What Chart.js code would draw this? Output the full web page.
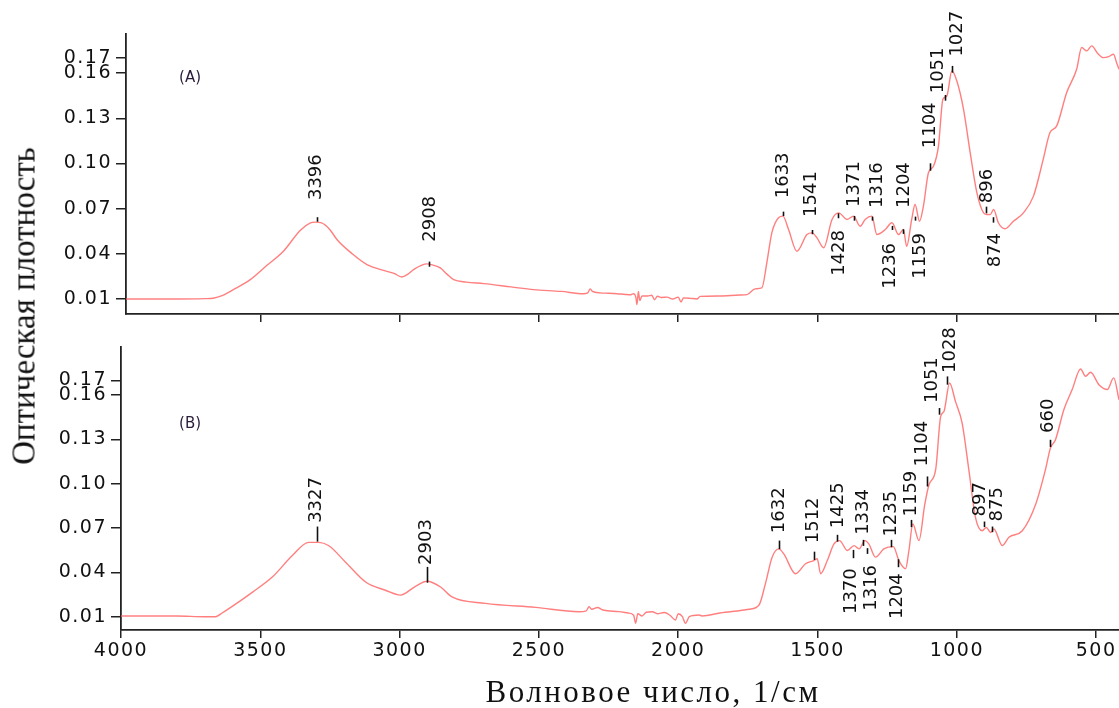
<!DOCTYPE html>
<html lang="ru">

<head>
    <meta charset="UTF-8" />
    <title>ИК-спектры (A) и (B)</title>
    <script src="https://cdn.jsdelivr.net/npm/chart.js"></script>
    <style>
        body {
            margin: 0;
            background: #ffffff;
            width: 1119px;
            height: 708px;
            position: relative;
            overflow: hidden;
            font-family: 'DejaVu Sans', sans-serif;
        }

        .panel {
            position: absolute;
            left: 0;
            width: 1119px;
        }

        #panelA {
            top: 0;
            height: 330px;
        }

        #panelB {
            top: 310px;
            height: 398px;
        }

        #yTitle {
            position: absolute;
            left: 24px;
            top: 306px;
            transform: translate(-50%, -50%) rotate(-90deg);
            font: 33px 'Liberation Serif', serif;
            line-height: 33px;
            white-space: nowrap;
            color: #111;
        }

        #xTitle {
            position: absolute;
            left: 653px;
            top: 676px;
            transform: translateX(-50%);
            font: 31px 'Liberation Serif', serif;
            line-height: 31px;
            letter-spacing: 2.5px;
            white-space: nowrap;
            color: #111;
        }
    </style>
</head>

<body>
    <div class="panel" id="panelA"><canvas id="chartA"></canvas></div>
    <div class="panel" id="panelB"><canvas id="chartB"></canvas></div>
    <div id="yTitle">Оптическая плотность</div>
    <div id="xTitle">Волновое число, 1/см</div>

    <script>
        // спектр (A): волновое число, 1/см и оптическая плотность
        const wnA = [3982, 3800, 3700, 3669, 3637, 3589, 3536, 3477, 3417, 3357, 3320, 3303, 3280, 3250, 3225,
            3170, 3117, 3058, 3020, 2992, 2970, 2950, 2920, 2902, 2880, 2854, 2830, 2806, 2760, 2698,
            2600, 2519, 2420, 2340, 2325, 2316, 2308, 2280, 2250, 2220, 2190, 2170, 2160, 2152, 2148,
            2143, 2138, 2130, 2110, 2095, 2085, 2075, 2060, 2040, 2020, 2000, 1990, 1981, 1960, 1933,
            1921, 1850, 1780, 1753, 1724, 1700, 1682, 1664, 1640, 1624, 1604, 1574, 1538, 1520, 1502,
            1478, 1448, 1424, 1394, 1371, 1347, 1329, 1305, 1287, 1257, 1233, 1209, 1192, 1180, 1162,
            1150, 1134, 1120, 1102, 1084, 1066, 1050, 1036, 1018, 1000, 976, 952, 928, 904, 892,
            880, 868, 851, 827, 797, 761, 725, 690, 666, 642, 606, 570, 552, 534, 516,
            495, 474, 455, 438, 425, 418];
        const odA = [0.0100, 0.0100, 0.0102, 0.0105, 0.0122, 0.0170, 0.0228, 0.0322, 0.0417, 0.0555, 0.0605, 0.0610, 0.0605, 0.0560, 0.0495,
            0.0400, 0.0328, 0.0290, 0.0270, 0.0246, 0.0265, 0.0295, 0.0325, 0.0333, 0.0325, 0.0306, 0.0265, 0.0228, 0.0212, 0.0202,
            0.0180, 0.0162, 0.0150, 0.0135, 0.0140, 0.0167, 0.0150, 0.0140, 0.0138, 0.0135, 0.0130, 0.0128, 0.0135, 0.0110, 0.0062,
            0.0150, 0.0090, 0.0120, 0.0120, 0.0125, 0.0095, 0.0118, 0.0110, 0.0112, 0.0100, 0.0112, 0.0080, 0.0107, 0.0105, 0.0100,
            0.0117, 0.0120, 0.0126, 0.0129, 0.0167, 0.0173, 0.0340, 0.0539, 0.0639, 0.0650, 0.0561, 0.0417, 0.0528, 0.0539, 0.0506,
            0.0440, 0.0628, 0.0672, 0.0628, 0.0650, 0.0583, 0.0628, 0.0650, 0.0528, 0.0561, 0.0606, 0.0528, 0.0561, 0.0450, 0.0628,
            0.0727, 0.0616, 0.0716, 0.0938, 0.0982, 0.1115, 0.1426, 0.1448, 0.1614, 0.1548, 0.1360, 0.1071, 0.0805, 0.0672, 0.0661,
            0.0660, 0.0694, 0.0606, 0.0566, 0.0616, 0.0672, 0.0783, 0.1027, 0.1204, 0.1248, 0.1470, 0.1626, 0.1770, 0.1748, 0.1781,
            0.1732, 0.1703, 0.1710, 0.1725, 0.1660, 0.1626];

        // спектр (B)
        const wnB = [4000, 3800, 3700, 3660, 3637, 3589, 3529, 3457, 3385, 3326, 3290, 3254, 3194, 3122,
            3051, 2997, 2943, 2901, 2853, 2812, 2692, 2512, 2356, 2330, 2320, 2310, 2290, 2270, 2213,
            2180, 2160, 2153, 2145, 2130, 2115, 2093, 2075, 2050, 2030, 2010, 2000, 1985, 1974, 1960,
            1926, 1914, 1850, 1746, 1710, 1687, 1663, 1639, 1621, 1579, 1543, 1513, 1501, 1489, 1465,
            1441, 1421, 1393, 1369, 1351, 1330, 1316, 1292, 1262, 1228, 1208, 1184, 1172, 1158, 1136,
            1115, 1100, 1076, 1058, 1046, 1026, 1005, 981, 957, 933, 909, 894, 879, 867, 837,
            813, 765, 717, 682, 664, 646, 616, 586, 556, 538, 520, 490, 460, 437, 418];
        const odB = [0.0105, 0.0105, 0.0100, 0.0100, 0.0125, 0.0185, 0.0265, 0.0368, 0.0514, 0.0603, 0.0603, 0.0580, 0.0469, 0.0335,
            0.0279, 0.0246, 0.0306, 0.0340, 0.0301, 0.0234, 0.0190, 0.0163, 0.0134, 0.0140, 0.0167, 0.0150, 0.0162, 0.0145, 0.0134,
            0.0125, 0.0110, 0.0056, 0.0120, 0.0105, 0.0130, 0.0134, 0.0120, 0.0128, 0.0110, 0.0078, 0.0120, 0.0100, 0.0056, 0.0100,
            0.0111, 0.0105, 0.0125, 0.0150, 0.0179, 0.0324, 0.0503, 0.0559, 0.0525, 0.0391, 0.0458, 0.0480, 0.0492, 0.0391, 0.0480,
            0.0593, 0.0615, 0.0548, 0.0581, 0.0559, 0.0615, 0.0593, 0.0503, 0.0559, 0.0574, 0.0480, 0.0425, 0.0548, 0.0727, 0.0615,
            0.0861, 0.0993, 0.1095, 0.1455, 0.1490, 0.1681, 0.1557, 0.1410, 0.1095, 0.0771, 0.0682, 0.0704, 0.0670, 0.0693, 0.0581,
            0.0637, 0.0682, 0.0861, 0.1095, 0.1242, 0.1298, 0.1501, 0.1637, 0.1776, 0.1727, 0.1754, 0.1670, 0.1637, 0.1716, 0.1568];

        const yTicks = [0.01, 0.04, 0.07, 0.10, 0.13, 0.16, 0.17];
        const xTicks = [4000, 3500, 3000, 2500, 2000, 1500, 1000, 500];

        // отметки пиков (A): подпись, штрих (положение, концы), подпись (положение, начало)
        const peakTextA = ['3396', '2908', '1633', '1541', '1428', '1371', '1316', '1236', '1204', '1159', '1104', '1051', '1027', '896', '874'];
        const peakPosA = [3297, 2894, 1625, 1519, 1425, 1368, 1305, 1234, 1192, 1150, 1096, 1042, 1018, 895, 869];
        const peakLowA = [0.0613, 0.0314, 0.0651, 0.0530, 0.0636, 0.0620, 0.0620, 0.0558, 0.0532, 0.0620, 0.0952, 0.1417, 0.1603, 0.0669, 0.0607];
        const peakHighA = [0.0643, 0.0348, 0.0680, 0.0558, 0.0669, 0.0651, 0.0647, 0.0585, 0.0563, 0.0647, 0.1001, 0.1455, 0.1648, 0.0713, 0.0643];
        const peakTextPosA = [3300, 2891, 1623, 1521, 1422, 1369, 1286, 1237, 1190, 1130, 1096, 1067, 998, 891, 861];
        const peakLabelA = [0.0757, 0.0480, 0.0769, 0.0645, 0.0558, 0.0711, 0.0704, 0.0472, 0.0704, 0.0538, 0.1101, 0.1466, 0.1710, 0.0736, 0.0538];

        // отметки пиков (B)
        const peakTextB = ['3327', '2903', '1632', '1512', '1425', '1370', '1334', '1316', '1235', '1204', '1159', '1104', '1051', '1028', '897', '875', '660'];
        const peakPosB = [3298, 2903, 1638, 1511, 1429, 1374, 1338, 1323, 1236, 1210, 1166, 1108, 1063, 1034, 902, 875, 666];
        const peakLowB = [0.0608, 0.0330, 0.0557, 0.0484, 0.0608, 0.0496, 0.0579, 0.0525, 0.0570, 0.0435, 0.0706, 0.0981, 0.1467, 0.1670, 0.0706, 0.0672, 0.1248];
        const peakHighB = [0.0710, 0.0437, 0.0615, 0.0540, 0.0654, 0.0552, 0.0620, 0.0564, 0.0620, 0.0489, 0.0755, 0.1049, 0.1512, 0.1726, 0.0744, 0.0710, 0.1297];
        const peakTextPosB = [3299, 2903, 1637, 1514, 1427, 1377, 1334, 1306, 1235, 1214, 1164, 1123, 1088, 1022, 914, 855, 673];
        const peakLabelB = [0.0735, 0.0450, 0.0665, 0.0597, 0.0699, 0.0428, 0.0654, 0.0450, 0.0642, 0.0394, 0.0778, 0.1116, 0.1546, 0.1749, 0.0778, 0.0744, 0.1343];

        const axisColor = '#222';
        const lineColor = 'rgba(255, 95, 95, 0.8)';

        // штрихи и повёрнутые подписи пиков + метка панели
        function peakMarks(p, panel) {
            return {
                id: 'peakMarks',
                afterDatasetsDraw(chart) {
                    const { ctx, scales: { x, y } } = chart;
                    ctx.save();
                    ctx.letterSpacing = '0px';
                    ctx.strokeStyle = '#111';
                    ctx.fillStyle = '#111';
                    ctx.lineWidth = 1.6;
                    ctx.font = '18px "DejaVu Sans"';
                    ctx.textBaseline = 'middle';
                    p.text.forEach((t, i) => {
                        const px = Math.round(x.getPixelForValue(p.pos[i])) + 0.5;
                        ctx.beginPath();
                        ctx.moveTo(px, y.getPixelForValue(p.low[i]));
                        ctx.lineTo(px, y.getPixelForValue(p.high[i]));
                        ctx.stroke();
                        const up = p.label[i] > p.high[i];
                        ctx.save();
                        ctx.translate(x.getPixelForValue(p.textPos[i]), y.getPixelForValue(p.label[i]));
                        ctx.rotate(-Math.PI / 2);
                        ctx.textAlign = up ? 'left' : 'right';
                        ctx.fillText(t, 0, 0);
                        ctx.restore();
                    });
                    ctx.font = '15px "DejaVu Sans"';
                    ctx.fillStyle = '#2b1d3a';
                    ctx.textAlign = 'center';
                    ctx.fillText(panel.text, x.getPixelForValue(panel.x), y.getPixelForValue(panel.y));
                    ctx.restore();
                }
            };
        }

        function makeChart(canvasId, wn, od, opts) {
            return new Chart(document.getElementById(canvasId), {
                type: 'line',
                data: {
                    datasets: [{
                        data: wn.map((w, i) => ({ x: w, y: od[i] })),
                        borderColor: lineColor,
                        borderWidth: 1.4,
                        pointRadius: 0,
                        cubicInterpolationMode: 'monotone',
                        fill: false
                    }]
                },
                options: {
                    responsive: true,
                    maintainAspectRatio: false,
                    animation: false,
                    layout: { padding: { top: opts.top, left: 0, right: 0, bottom: 0 } },
                    plugins: {
                        legend: { display: false },
                        tooltip: { enabled: false }
                    },
                    scales: {
                        x: {
                            type: 'linear',
                            reverse: true,
                            min: 418,
                            max: opts.xMax,
                            afterBuildTicks: scale => {
                                scale.ticks = xTicks.filter(v => v >= scale.min && v <= scale.max).map(v => ({ value: v }));
                            },
                            afterFit: scale => {
                                scale.height = opts.xHeight;
                                scale.paddingLeft = 0;
                                scale.paddingRight = 0;
                            },
                            grid: { drawOnChartArea: false, drawTicks: true, tickLength: 8, color: axisColor, lineWidth: 1.5 },
                            border: { display: true, color: axisColor, width: 1.8 },
                            ticks: {
                                display: opts.xLabels,
                                autoSkip: false,
                                maxRotation: 0,
                                padding: 2,
                                color: '#111',
                                font: { family: 'DejaVu Sans', size: 19 },
                                callback: v => String(v)
                            }
                        },
                        y: {
                            type: 'linear',
                            min: opts.yMin,
                            max: opts.yMax,
                            afterBuildTicks: scale => {
                                scale.ticks = yTicks.map(v => ({ value: v }));
                            },
                            afterFit: scale => {
                                scale.width = opts.yWidth;
                                scale.paddingTop = 0;
                                scale.paddingBottom = 0;
                            },
                            grid: { drawOnChartArea: false, drawTicks: true, tickLength: 10, color: axisColor, lineWidth: 1.5 },
                            border: { display: true, color: axisColor, width: 1.8 },
                            ticks: {
                                autoSkip: false,
                                padding: 4,
                                color: '#111',
                                font: { family: 'DejaVu Sans', size: 19 },
                                callback: v => v.toFixed(2)
                            }
                        }
                    }
                },
                plugins: [{
                    // подписи делений чуть разрежены
                    id: 'tickSpacing',
                    beforeDraw(chart) {
                        chart.ctx.letterSpacing = '1.5px';
                    }
                }, opts.marks]
            });
        }

        makeChart('chartA', wnA, odA, {
            top: 34, xHeight: 16, yWidth: 126, xMax: 3982, yMin: 0, yMax: 0.186, xLabels: false,
            marks: peakMarks({
                text: peakTextA, pos: peakPosA, low: peakLowA, high: peakHighA,
                textPos: peakTextPosA, label: peakLabelA
            }, { text: '(A)', x: 3752, y: 0.157 })
        });

        // панель (B) начинается выше своей оси, чтобы подпись 1028 не обрезалась
        makeChart('chartB', wnB, odB, {
            top: 37, xHeight: 78, yWidth: 121, xMax: 4000, yMin: 0.001, yMax: 0.1925, xLabels: true,
            marks: peakMarks({
                text: peakTextB, pos: peakPosB, low: peakLowB, high: peakHighB,
                textPos: peakTextPosB, label: peakLabelB
            }, { text: '(B)', x: 3752, y: 0.1406 })
        });
    </script>
</body>

</html>
